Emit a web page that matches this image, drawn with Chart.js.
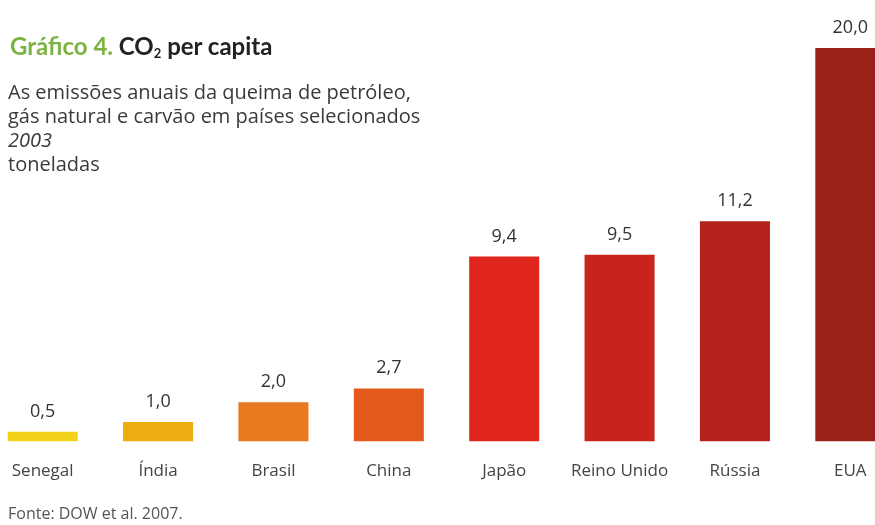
<!DOCTYPE html>
<html>
<head>
<meta charset="utf-8">
<script src="https://cdn.jsdelivr.net/npm/chart.js@4.4.0/dist/chart.umd.min.js"></script>
<style>
  html, body { margin: 0; padding: 0; background: #fff; overflow: hidden; }
  body { width: 875px; height: 525px; position: relative; font-family: Lato, "Open Sans", sans-serif; }
  #wrap { position: absolute; left: -15px; top: 0; width: 923px; height: 525px; }
  .title { position: absolute; left: 10px; top: 31px; font-size: 24px; font-weight: bold; color: #222; white-space: nowrap; }
  .title .green { color: #7cb342; }
  .title sub { font-size: 13px; vertical-align: -3px; }
  .sub { position: absolute; left: 8px; top: 80px; font-family: "Open Sans", sans-serif; font-size: 20px; line-height: 24px; color: #3a3a3a; white-space: nowrap; }
  .source { position: absolute; left: 8px; top: 502px; font-family: "Open Sans", sans-serif; font-size: 16px; color: #555; white-space: nowrap; }
</style>
</head>
<body>
<div id="wrap"><canvas id="chart"></canvas></div>
<div class="title"><span class="green">Gráfico 4.</span> CO<sub>2</sub> per capita</div>
<div class="sub">As emissões anuais da queima de petróleo,<br>gás natural e carvão em países selecionados<br><i>2003</i><br>toneladas</div>
<div class="source">Fonte: DOW et al. 2007.</div>
<script>
const countries = ['Senegal', 'Índia', 'Brasil', 'China', 'Japão', 'Reino Unido', 'Rússia', 'EUA'];
const emissions = [0.5, 1.0, 2.0, 2.7, 9.4, 9.5, 11.2, 20.0];
const barColors = ['#f3d21b', '#eeab12', '#e8791f', '#e45a1d', '#e0251c', '#c8231c', '#b4221c', '#9a2119'];

const valueLabels = {
    id: 'valueLabels',
    afterDatasetsDraw(chart) {
        const ctx = chart.ctx;
        const meta = chart.getDatasetMeta(0);
        ctx.save();
        ctx.font = '18px "Open Sans", sans-serif';
        ctx.fillStyle = '#333';
        ctx.textAlign = 'center';
        ctx.textBaseline = 'alphabetic';
        meta.data.forEach((bar, i) => {
            ctx.fillText(emissions[i].toFixed(1).replace('.', ','), bar.x, bar.y - 15);
        });
        ctx.restore();
    }
};

new Chart(document.getElementById('chart'), {
    type: 'bar',
    data: {
        labels: countries,
        datasets: [{
            data: emissions,
            backgroundColor: barColors,
            barPercentage: 0.607,
            categoryPercentage: 1.0
        }]
    },
    options: {
        responsive: true,
        maintainAspectRatio: false,
        animation: false,
        layout: { padding: { top: 48, bottom: 25, left: 0, right: 0 } },
        plugins: {
            legend: { display: false },
            tooltip: { enabled: false }
        },
        scales: {
            x: {
                grid: { display: false, drawTicks: false },
                border: { display: false },
                ticks: {
                    padding: 19,
                    color: '#444',
                    font: { family: '"Open Sans", sans-serif', size: 17 }
                }
            },
            y: {
                display: false,
                min: 0,
                max: 20
            }
        }
    },
    plugins: [valueLabels]
});
</script>
</body>
</html>
